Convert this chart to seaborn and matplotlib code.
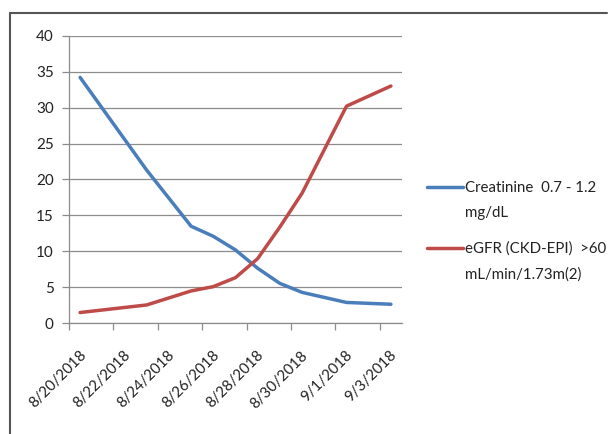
import matplotlib
matplotlib.use("Agg")
import matplotlib.pyplot as plt
import matplotlib.dates as mdates
import matplotlib.transforms as mtrans
from matplotlib.lines import Line2D
from matplotlib.legend_handler import HandlerLine2D
import seaborn as sns
import pandas as pd

dates = ["2018-08-20", "2018-08-23", "2018-08-25", "2018-08-26", "2018-08-27",
         "2018-08-28", "2018-08-29", "2018-08-30", "2018-09-01", "2018-09-03"]
creatinine = [34.2, 21.3, 13.5, 12.1, 10.2, 7.65, 5.55, 4.3, 2.9, 2.65]
egfr = [1.5, 2.55, 4.5, 5.1, 6.35, 9.0, 13.4, 18.1, 30.2, 33.0]
series_names = ["Creatinine  0.7 - 1.2\nmg/dL", "eGFR (CKD-EPI)  >60\nmL/min/1.73m(2)"]
colors = ["#4A7EBB", "#BE4B48"]
yticks = [0, 5, 10, 15, 20, 25, 30, 35, 40]

sns.set_theme(style="white")
plt.rcParams["font.family"] = ["Lato", "DejaVu Sans"]

d = pd.to_datetime(dates) + pd.Timedelta(hours=12)
df = pd.concat([
    pd.DataFrame({"date": d, "value": creatinine, "series": series_names[0]}),
    pd.DataFrame({"date": d, "value": egfr, "series": series_names[1]}),
])

fig = plt.figure(figsize=(6.09, 4.34), dpi=100)
ax = fig.add_axes([69 / 609, 1 - 323.3 / 434, (402 - 69) / 609, (323.3 - 35.7) / 434])
sns.lineplot(data=df, x="date", y="value", hue="series", palette=colors,
             linewidth=2.5, ax=ax, legend=False)

ax.set_xlim(pd.Timestamp("2018-08-20"), pd.Timestamp("2018-09-04"))
ax.set_ylim(0, 40)
ax.set_yticks(yticks)
ax.xaxis.set_major_locator(mdates.DayLocator(bymonthday=[20, 22, 24, 26, 28, 30, 1, 3]))
ax.xaxis.set_major_formatter(mdates.DateFormatter("%-m/%-d/%Y"))
ax.set_xlabel("")
ax.set_ylabel("")
ax.grid(axis="y", color="#8c8c8c", linewidth=0.9)
ax.set_axisbelow(True)
for s in ["top", "right"]:
    ax.spines[s].set_visible(False)
for s in ["left", "bottom"]:
    ax.spines[s].set_color("#8c8c8c")
    ax.spines[s].set_linewidth(0.9)
ax.tick_params(axis="both", which="major", direction="out", length=5, width=0.9,
               color="#8c8c8c", labelcolor="#222222")
ax.tick_params(axis="y", left=True, pad=6, labelsize=11)
ax.tick_params(axis="x", bottom=True, pad=13, labelsize=10.8)
off = mtrans.ScaledTranslation(10 / 100, 0, fig.dpi_scale_trans)
for lab in ax.get_xticklabels():
    lab.set_rotation(45)
    lab.set_ha("right")
    lab.set_va("top")
    lab.set_rotation_mode("anchor")
    lab.set_transform(lab.get_transform() + off)


class TopLine(HandlerLine2D):
    def create_artists(self, legend, orig_handle, xdescent, ydescent, width, height,
                       fontsize, trans):
        arts = super().create_artists(legend, orig_handle, xdescent, ydescent, width,
                                      height, fontsize, trans)
        for a in arts:
            a.set_ydata(a.get_ydata() + 0.93 * fontsize)
        return arts


handles = [Line2D([0], [0], color=c, linewidth=2.5) for c in colors]
leg = fig.legend(handles, series_names, loc="upper left",
                 bbox_to_anchor=(421 / 609, 1 - 175 / 434),
                 frameon=False, fontsize=10.8, handlelength=2.4, handletextpad=0.15,
                 labelspacing=1.45, borderaxespad=0,
                 handler_map={Line2D: TopLine()})
for t in leg.get_texts():
    t.set_linespacing(2.0)
    t.set_color("#222222")

# outer chart border (top and left visible)
fig.add_artist(Line2D([10 / 609, 607 / 609], [1 - 13 / 434, 1 - 13 / 434], color="#555555",
                      linewidth=1.5, transform=fig.transFigure))
fig.add_artist(Line2D([10 / 609, 10 / 609], [1 - 13 / 434, 0], color="#555555",
                      linewidth=1.5, transform=fig.transFigure))

fig.savefig("out.png", dpi=100)
